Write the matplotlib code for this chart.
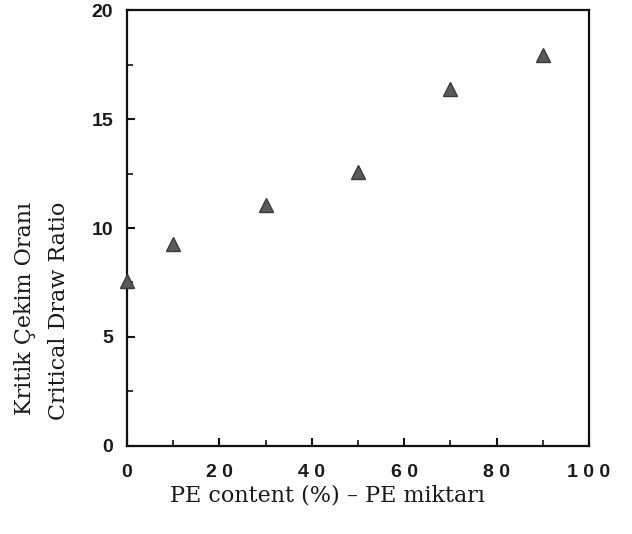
import matplotlib
matplotlib.use("Agg")
import matplotlib.pyplot as plt
from matplotlib.ticker import MultipleLocator

pe_content = [0, 10, 30, 50, 70, 90]
draw_ratio = [7.55, 9.27, 11.06, 12.55, 16.4, 17.94]
x_ticks = [0, 20, 40, 60, 80, 100]
x_tick_labels = ["0", "2 0", "4 0", "6 0", "8 0", "1 0 0"]
y_ticks = [0, 5, 10, 15, 20]
y_tick_labels = ["0", "5", "10", "15", "20"]

fig = plt.figure(figsize=(6.32, 5.34), dpi=100)
ax = fig.add_axes([0.201, 0.165, 0.731, 0.816])

ax.plot(pe_content, draw_ratio, linestyle="none", marker="^", markersize=10,
        color="#5a5a5a", markeredgecolor="#3a3a3a", markeredgewidth=1.0, clip_on=False, zorder=5)

ax.set_xlim(0, 100)
ax.set_ylim(0, 20)
ax.set_xticks(x_ticks)
ax.set_xticklabels(x_tick_labels)
ax.set_yticks(y_ticks)
ax.set_yticklabels(y_tick_labels)
ax.xaxis.set_minor_locator(MultipleLocator(10))
ax.yaxis.set_minor_locator(MultipleLocator(2.5))

for s in ax.spines.values():
    s.set_linewidth(1.6)
    s.set_color("#111111")

ax.tick_params(axis="both", which="major", direction="in", length=6, width=1.5,
               top=False, right=False, colors="#111111")
ax.tick_params(axis="both", which="minor", direction="in", length=4, width=1.2,
               top=False, right=False, colors="#111111")
ax.tick_params(axis="y", which="major", pad=10)
ax.tick_params(axis="x", which="major", pad=13)

for lab in ax.get_xticklabels() + ax.get_yticklabels():
    lab.set_fontfamily("Liberation Sans")
    lab.set_fontweight("bold")
    lab.set_fontsize(14)
    lab.set_color("#1a1a1a")

fig.text(0.518, 0.073, "PE content (%) – PE miktarı", ha="center", va="center",
         fontfamily="DejaVu Serif", fontsize=16, color="#1a1a1a")
fig.text(0.040, 1 - 202 / 534, "Kritik Çekim Oranı", ha="center", va="top", rotation=90,
         fontfamily="DejaVu Serif", fontsize=16, color="#1a1a1a")
fig.text(0.094, 1 - 202 / 534, "Critical Draw Ratio", ha="center", va="top", rotation=90,
         fontfamily="DejaVu Serif", fontsize=16, color="#1a1a1a")

fig.savefig("out.png", dpi=100)
